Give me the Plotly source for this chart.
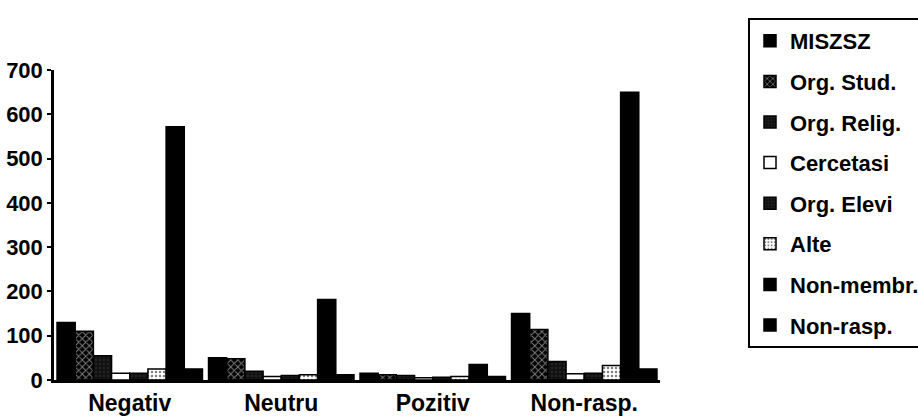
import plotly.graph_objects as go

categories = ["Negativ", "Neutru", "Pozitiv", "Non-rasp."]
series_names = ["MISZSZ", "Org. Stud.", "Org. Relig.", "Cercetasi", "Org. Elevi", "Alte", "Non-membr.", "Non-rasp."]
miszsz = [130, 50, 15, 150]
org_stud = [110, 48, 12, 114]
org_relig = [55, 20, 10, 42]
cercetasi = [15, 8, 5, 14]
org_elevi = [15, 10, 6, 15]
alte = [25, 12, 8, 33]
non_membr = [572, 182, 35, 650]
non_rasp = [25, 12, 8, 25]
y_ticks = [0, 100, 200, 300, 400, 500, 600, 700]

values = [miszsz, org_stud, org_relig, cercetasi, org_elevi, alte, non_membr, non_rasp]
styles = [
    dict(color="black"),
    dict(color="black", pattern=dict(shape="x", fgcolor="white", size=5, solidity=0.35)),
    dict(color="#111111", pattern=dict(shape=".", fgcolor="#333333", size=4, solidity=0.3)),
    dict(color="white"),
    dict(color="#111111", pattern=dict(shape=".", fgcolor="#333333", size=4, solidity=0.3)),
    dict(color="white", pattern=dict(shape=".", fgcolor="black", size=4, solidity=0.3)),
    dict(color="black"),
    dict(color="black"),
]

font_family = "Liberation Sans, Arial, sans-serif"

fig = go.Figure()
for i, (name, vals, st) in enumerate(zip(series_names, values, styles)):
    marker = dict(color=st["color"], line=dict(color="black", width=1.5))
    if "pattern" in st:
        marker["pattern"] = st["pattern"]
    fig.add_trace(go.Bar(
        name=name, x=categories, y=vals, marker=marker,
        legendgroup=f"g{i}",
    ))

fig.update_layout(
    width=918, height=416,
    barmode="group", bargap=0.04, bargroupgap=0,
    paper_bgcolor="white", plot_bgcolor="white",
    margin=dict(l=54, r=258, t=70, b=36),
    font=dict(family=font_family, color="black", size=18),
    legend=dict(
        xref="container", yref="container",
        x=748 / 918, y=1 - 18 / 416, xanchor="left", yanchor="top",
        bordercolor="black", borderwidth=2,
        font=dict(family=font_family, size=22, color="black", weight="bold"),
        tracegroupgap=9, maxheight=410,
    ),
    showlegend=True,
)
fig.update_xaxes(
    showline=True, linecolor="black", linewidth=3,
    ticks="", showgrid=False, automargin=False,
    tickfont=dict(family=font_family, size=23, color="black", weight="bold"),
)
fig.update_yaxes(
    range=[0, 700], tickvals=y_ticks, ticktext=[str(v) for v in y_ticks],
    showline=True, linecolor="black", linewidth=2.5,
    ticks="outside", ticklen=4, tickwidth=2, tickcolor="black",
    showgrid=False, zeroline=False, automargin=False,
    tickfont=dict(family=font_family, size=22, color="black", weight="bold"),
)

fig.write_html("out.html", config={"displayModeBar": False},
               post_script="document.body.style.margin='0';")
